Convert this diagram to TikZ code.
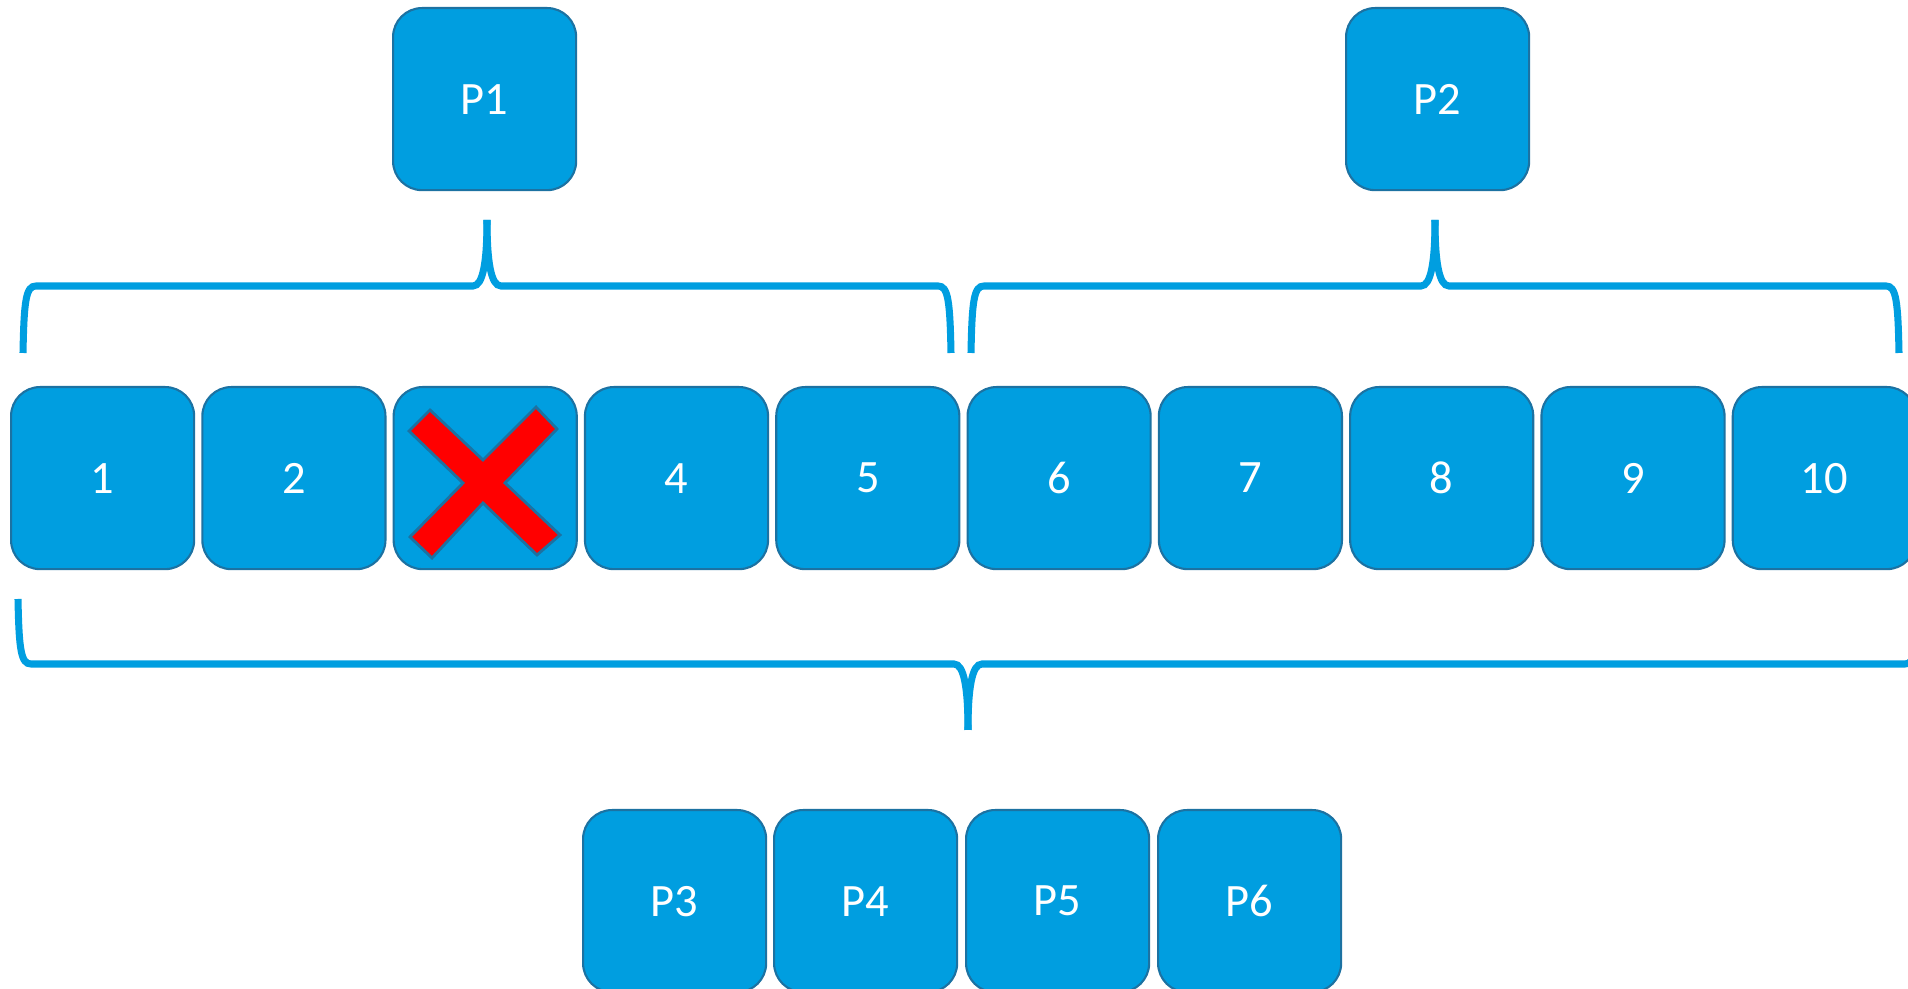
\documentclass[tikz,border=0pt]{standalone}
\usepackage{fontspec}
\setmainfont{Carlito}
\definecolor{boxfill}{HTML}{009EE0}
\definecolor{boxedge}{HTML}{1C72A2}
\definecolor{curlycol}{HTML}{009EE0}
\begin{document}
\begin{tikzpicture}[x=0.01cm,y=-0.01cm,
  cell/.style={draw=boxedge, fill=boxfill, line width=0.6pt, rounded corners=0.29cm,
    minimum width=1.83cm, minimum height=1.82cm, inner sep=0pt, text=white,
    font=\fontsize{13.2pt}{16pt}\selectfont, anchor=north west},
  curly/.style={draw=curlycol, line width=2pt}]
\useasboundingbox (0,0) rectangle (1908,989);
\clip (0,0) rectangle (1908,989);

% processes on top
\node[cell] (p1) at (392,7) {P1};
\node[cell] (p2) at (1345,7) {P2};

% row of cells
\foreach \i in {1,...,10} {
  \node[cell] (b\i) at ({10+191.3*(\i-1)},386) {\ifnum\i=3\else\i\fi};
}

% cross over cell 3
\draw[fill=red, draw=boxedge, line width=0.8pt]
  (430,410) -- (483,460) -- (536,407) -- (557,429) -- (505,483) -- (560,535)
  -- (537,555) -- (483,503) -- (432,558) -- (410,537) -- (463,483) -- (409,431) -- cycle;

% processes at the bottom
\node[cell] (p3) at (582,809) {P3};
\node[cell] (p4) at (773,809) {P4};
\node[cell] (p5) at (965,809) {P5};
\node[cell] (p6) at (1157,809) {P6};

% brace under P1
\draw[curly] (487,220) .. controls (487,262) and (483,286) .. (473,286)
  -- (36,286) .. controls (26,286) and (24,300) .. (23,353);
\draw[curly] (487,220) .. controls (487,262) and (491,286) .. (501,286)
  -- (938,286) .. controls (948,286) and (950,300) .. (951,353);

% brace under P2
\draw[curly] (1435,220) .. controls (1435,262) and (1431,286) .. (1421,286)
  -- (984,286) .. controls (974,286) and (972,300) .. (971,353);
\draw[curly] (1435,220) .. controls (1435,262) and (1439,286) .. (1449,286)
  -- (1886,286) .. controls (1896,286) and (1898,300) .. (1899,353);

% brace over the bottom processes
\draw[curly] (968,730) .. controls (968,688) and (964,664) .. (954,664)
  -- (31,664) .. controls (21,664) and (19,650) .. (18,599);
\draw[curly] (968,730) .. controls (968,688) and (972,664) .. (982,664)
  -- (1905,664) .. controls (1915,664) and (1917,650) .. (1918,599);
\end{tikzpicture}
\end{document}
